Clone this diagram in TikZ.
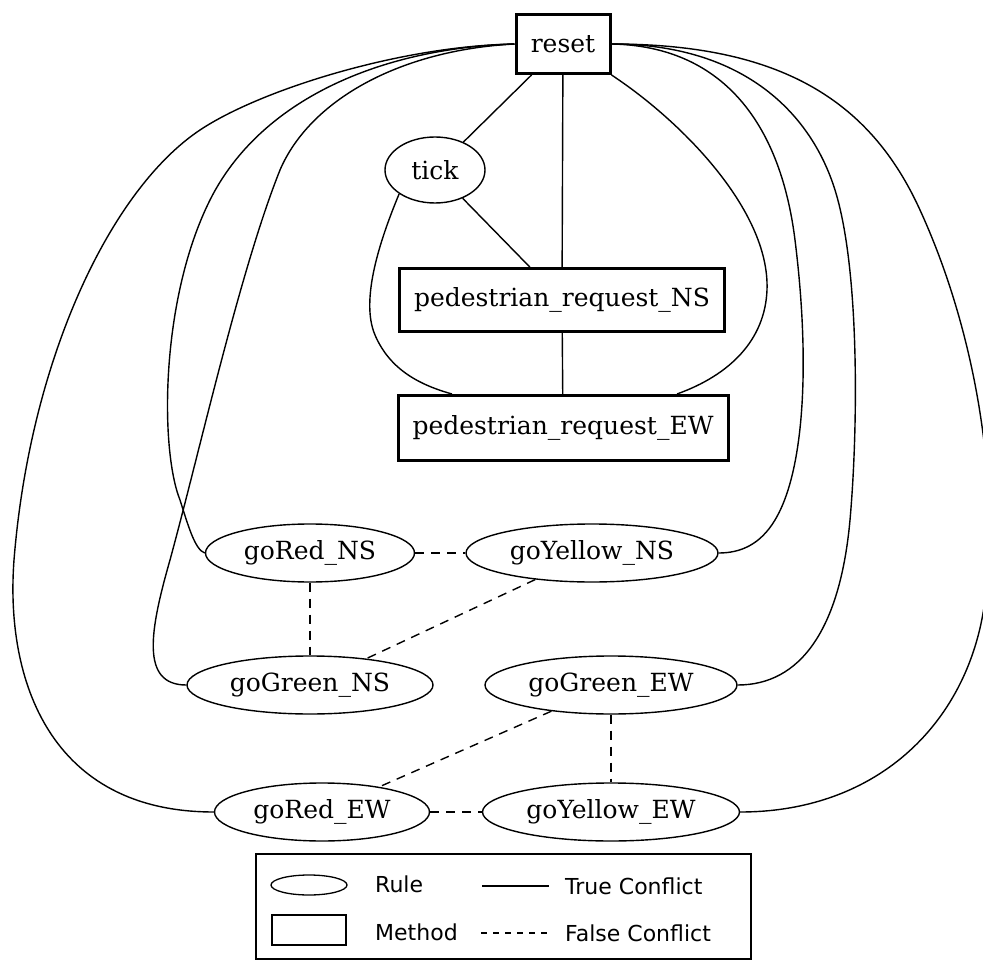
\documentclass[tikz,border=0pt]{standalone}
\usepackage{fontspec}
\setmainfont{DejaVu Serif}
\newfontfamily\legendfont{DejaVu Sans}
\usetikzlibrary{shapes.geometric}
\begin{document}
\begin{tikzpicture}[x=1pt,y=-1pt,
  method/.style={draw,line width=3pt,rectangle,inner sep=0pt,font=\fontsize{25}{28}\selectfont},
  rule/.style={draw,line width=1.4pt,ellipse,inner sep=0pt,font=\fontsize{25}{28}\selectfont},
  trueconf/.style={line width=1.4pt},
  falseconf/.style={line width=1.4pt,dash pattern=on 9pt off 7pt},
  legendtext/.style={anchor=west,inner sep=0pt,font=\legendfont\fontsize{22}{26}\selectfont}]
\useasboundingbox (0,0) rectangle (983,960);

% methods
\node[method,minimum width=94pt,minimum height=59pt] (reset) at (563,44) {reset};
\node[method,minimum width=325pt,minimum height=63pt] (pNS) at (562,300) {pedestrian\_request\_NS};
\node[method,minimum width=330pt,minimum height=65pt] (pEW) at (563,428) {pedestrian\_request\_EW};

% rules
\node[rule,minimum width=100pt,minimum height=66pt] (tick) at (435,170) {tick};
\node[rule,minimum width=209pt,minimum height=58pt] (redNS) at (310,553) {goRed\_NS};
\node[rule,minimum width=252pt,minimum height=58pt] (yelNS) at (592,553) {goYellow\_NS};
\node[rule,minimum width=246pt,minimum height=58pt] (grnNS) at (310,685) {goGreen\_NS};
\node[rule,minimum width=252pt,minimum height=58pt] (grnEW) at (611,685) {goGreen\_EW};
\node[rule,minimum width=215pt,minimum height=58pt] (redEW) at (322,812) {goRed\_EW};
\node[rule,minimum width=257pt,minimum height=58pt] (yelEW) at (611,812) {goYellow\_EW};

% true conflicts among the methods and tick
\draw[trueconf] (reset) -- (tick);
\draw[trueconf] (reset) -- (pNS);
\draw[trueconf] (tick) -- (pNS);
\draw[trueconf] (pNS) -- (pEW);
\draw[trueconf] (reset.south east) .. controls (680,120) and (770,210) .. (767,290)
  .. controls (765,340) and (730,375) .. ([xshift=114pt]pEW.north);
\draw[trueconf] (tick.south west) .. controls (380,240) and (360,300) .. (375,335)
  .. controls (390,370) and (420,385) .. ([xshift=-111pt]pEW.north);

% true conflicts from reset to the rules, left side
\draw[trueconf] (reset.west) .. controls (400,46) and (260,90) .. (200,130)
  .. controls (110,190) and (30,360) .. (14,560)
  .. controls (5,680) and (50,812) .. (redEW.west);
\draw[trueconf] (reset.west) .. controls (380,48) and (260,100) .. (210,200)
  .. controls (160,300) and (160,450) .. (180,500)
  .. controls (188,525) and (195,550) .. (redNS.west);
\draw[trueconf] (reset.west) .. controls (400,50) and (310,100) .. (280,170)
  .. controls (240,270) and (200,450) .. (170,560)
  .. controls (150,630) and (140,685) .. (grnNS.west);

% true conflicts from reset to the rules, right side
\draw[trueconf] (reset.east) .. controls (720,46) and (780,120) .. (795,240)
  .. controls (810,360) and (805,470) .. (775,520)
  .. controls (760,545) and (740,553) .. (yelNS.east);
\draw[trueconf] (reset.east) .. controls (740,44) and (810,110) .. (835,190)
  .. controls (860,270) and (858,430) .. (850,520)
  .. controls (840,630) and (800,685) .. (grnEW.east);
\draw[trueconf] (reset.east) .. controls (780,44) and (870,100) .. (920,210)
  .. controls (975,330) and (1000,480) .. (985,600)
  .. controls (970,720) and (880,812) .. (yelEW.east);

% false conflicts
\draw[falseconf] (redNS) -- (yelNS);
\draw[falseconf] (redNS) -- (grnNS);
\draw[falseconf] (yelNS) -- (grnNS);
\draw[falseconf] (grnEW) -- (redEW);
\draw[falseconf] (grnEW) -- (yelEW);
\draw[falseconf] (redEW) -- (yelEW);

% legend
\draw[line width=1.4pt] (256,854) rectangle (751,959);
\node[draw,ellipse,line width=1.3pt,minimum width=76pt,minimum height=20pt,inner sep=0pt] (lgRule) at (309,885) {};
\node[draw,rectangle,line width=1.3pt,minimum width=74pt,minimum height=30pt,inner sep=0pt] (lgMethod) at (309,930) {};
\node[legendtext] (lgRuleT) at (375,884) {Rule};
\node[legendtext] (lgMethodT) at (375,932) {Method};
\coordinate (lgS1) at (482,886);
\coordinate (lgS2) at (549,886);
\coordinate (lgD1) at (481,933);
\coordinate (lgD2) at (550,933);
\draw[trueconf] (lgS1) -- (lgS2);
\draw[line width=1.4pt,dash pattern=on 6pt off 6pt] (lgD1) -- (lgD2);
\node[legendtext] (lgTrue) at (565,886) {True Conflict};
\node[legendtext] (lgFalse) at (565,933) {False Conflict};
\end{tikzpicture}
\end{document}
